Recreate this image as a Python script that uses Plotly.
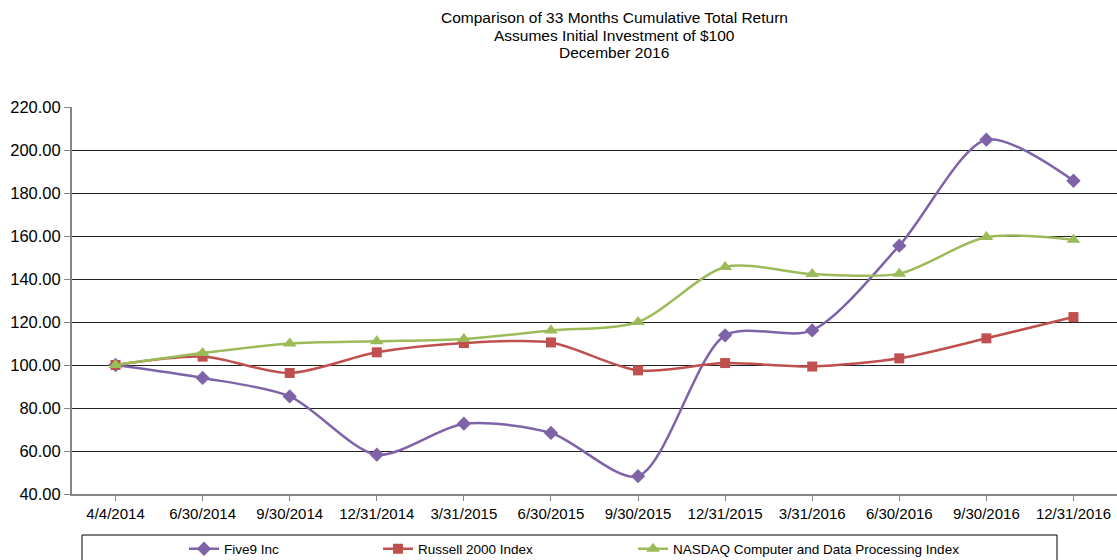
import plotly.graph_objects as go

dates = ["4/4/2014", "6/30/2014", "9/30/2014", "12/31/2014", "3/31/2015", "6/30/2015",
         "9/30/2015", "12/31/2015", "3/31/2016", "6/30/2016", "9/30/2016", "12/31/2016"]
five9 = [100.0, 94.0, 85.4, 58.3, 72.7, 68.4, 48.3, 113.8, 116.1, 155.5, 204.8, 185.7]
russell = [100.0, 103.9, 96.3, 105.9, 110.2, 110.5, 97.5, 100.9, 99.3, 103.1, 112.4, 122.3]
nasdaq = [100.0, 105.6, 110.0, 111.0, 112.1, 116.1, 120.0, 145.6, 142.3, 142.5, 159.5, 158.2]
title_lines = ["Comparison of 33 Months Cumulative Total Return",
               "Assumes Initial Investment of $100",
               "December 2016"]

series = [
    ("Five9 Inc", five9, "#7F63A8", "diamond", 11, "legend"),
    ("Russell 2000 Index", russell, "#C0504D", "square", 10, "legend2"),
    ("NASDAQ Computer and Data Processing Index", nasdaq, "#9BBB59", "triangle-up", 12, "legend3"),
]

fig = go.Figure()
for name, vals, color, sym, size, leg in series:
    fig.add_trace(go.Scatter(
        x=dates, y=vals, name=name, mode="lines+markers",
        line=dict(color=color, width=2.5, shape="spline", smoothing=0.8),
        marker=dict(symbol=sym, size=size, color=color),
        legend=leg, showlegend=True,
    ))

FONT = "Liberation Sans, Arial, sans-serif"
leg_common = dict(orientation="h", yanchor="middle", y=-0.142, xanchor="left",
                  font=dict(family=FONT, size=13.5, color="#000"), bgcolor="rgba(0,0,0,0)",
                  borderwidth=0, visible=True)

annotations = []
for i, (line, yc) in enumerate(zip(title_lines, [18, 36, 53])):
    annotations.append(dict(
        text=line, xref="paper", yref="paper", x=(614 - 72) / 1045,
        y=1 + (107 - yc) / 387, xanchor="center", yanchor="middle",
        showarrow=False, font=dict(family=FONT, size=15.5, color="#000"),
    ))

fig.update_layout(
    width=1117, height=560,
    margin=dict(l=72, r=0, t=107, b=66, autoexpand=False),
    paper_bgcolor="white", plot_bgcolor="white",
    font=dict(family=FONT, color="#000"),
    showlegend=True,
    xaxis=dict(
        type="category", showgrid=False, showline=True, linecolor="#868686", linewidth=2,
        ticks="outside", ticklen=5, tickcolor="#868686",
        tickfont=dict(family=FONT, size=15, color="#000"),
        range=[-0.5, 11.5], fixedrange=True, automargin=False,
    ),
    yaxis=dict(
        range=[40, 220], dtick=20, tickformat=".2f",
        showgrid=True, gridcolor="#222", gridwidth=1,
        showline=True, linecolor="#868686", linewidth=2,
        ticks="outside", ticklen=6, tickcolor="#868686",
        tickfont=dict(family=FONT, size=16.5, color="#000"),
        zeroline=False, automargin=False,
    ),
    legend=dict(x=(184 - 72) / 1045, **leg_common),
    legend2=dict(x=(378 - 72) / 1045, **leg_common),
    legend3=dict(x=(633 - 72) / 1045, **leg_common),
    annotations=annotations,
    shapes=[dict(type="rect", xref="paper", yref="paper",
                 x0=(82 - 72) / 1045, x1=(1057 - 72) / 1045,
                 y0=(494 - 575) / 387, y1=(494 - 535) / 387,
                 line=dict(color="#000", width=1), fillcolor="rgba(0,0,0,0)")],
)

fig.write_html("out.html", config={"displayModeBar": False},
               post_script="document.body.style.margin='0';")
